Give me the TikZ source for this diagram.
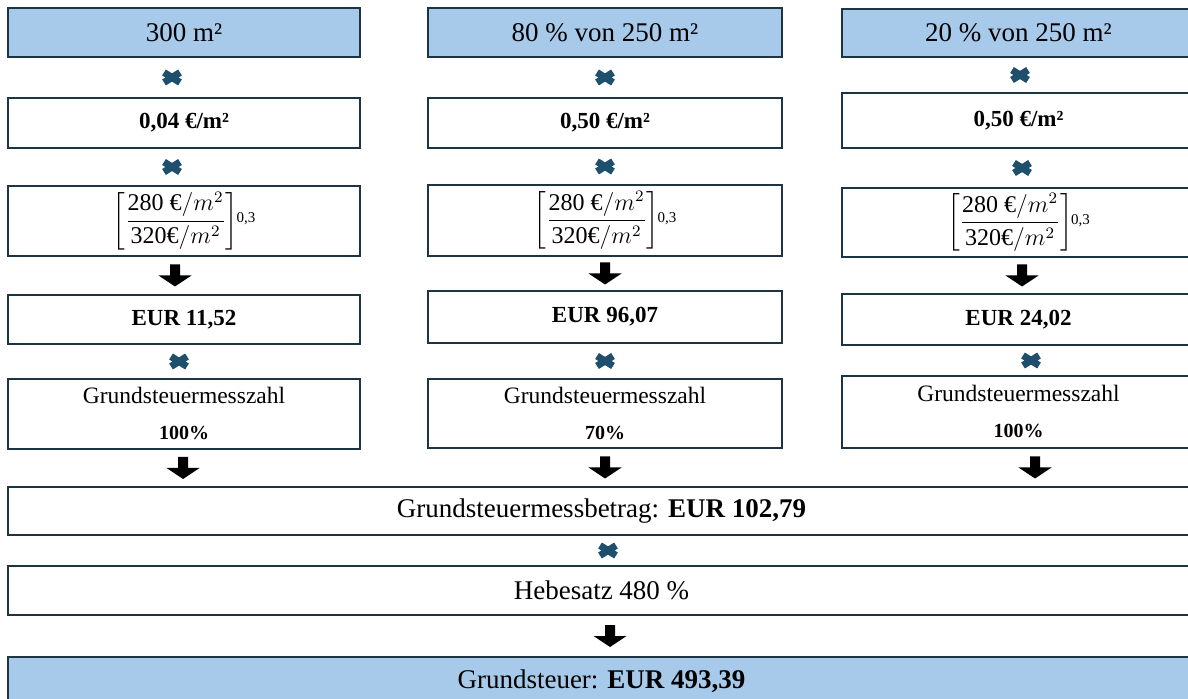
\documentclass[tikz,border=0pt]{standalone}
\usepackage{amsmath}
\usepackage{fontspec}
\setmainfont{Liberation Serif}
\usetikzlibrary{calc}
\definecolor{boxline}{HTML}{1C3444}
\definecolor{bluefill}{HTML}{A7C9EA}
\definecolor{multcol}{HTML}{1E4F6C}
\newcommand{\bodenratio}{\(\left[\dfrac{\text{280 €}/m^{2}}{\text{320€}/m^{2}}\right]\)\hspace{-1pt}\raisebox{2.2pt}{\fontsize{7.5}{9}\selectfont 0,3}}
\tikzset{
  box/.style={draw=boxline, line width=1pt, fill=white, inner sep=0pt, align=center},
  headbox/.style={box, fill=bluefill, font=\fontsize{13.5}{16}\selectfont},
  valbox/.style={box, font=\bfseries\fontsize{11.5}{14}\selectfont},
  fracbox/.style={box, font=\fontsize{12}{14}\selectfont},
  widebox/.style={box, font=\fontsize{13.5}{16}\selectfont},
  mzlabel/.style={anchor=base, inner sep=0pt, font=\fontsize{11.75}{14}\selectfont},
  mzpct/.style={anchor=base, inner sep=0pt, font=\bfseries\fontsize{10}{12}\selectfont},
  colA/.style={minimum width=176pt},
  colB/.style={minimum width=177pt},
  colC/.style={minimum width=176.5pt},
  mult/.pic={\draw[multcol, line width=3.5pt, line cap=butt, line join=miter] (-8,-5) -- (8,5) (-8,5) -- (8,-5);},
  downarr/.pic={\fill[black] (-5,-11) -- (5,-11) -- (5,0) -- (16.5,0) -- (0,11) -- (-16.5,0) -- (-5,0) -- cycle;}
}
\begin{document}
\begin{tikzpicture}[x=0.5pt,y=-0.5pt]
\useasboundingbox (0,0) rectangle (1188,699);
% ---------- column 1
\node[headbox, colA, minimum height=24.5pt] (a1) at (184,32.5) {300 m²};
\node[valbox, colA, minimum height=25pt] (b1) at (184,123) {0,04 €/m²};
\node[fracbox, colA, minimum height=35pt] (c1) at (184,221) {\bodenratio};
\node[valbox, colA, minimum height=24.5pt] (d1) at (184,319.5) {EUR 11,52};
\node[box, colA, minimum height=35pt] (e1) at (184,414) {};
\node[mzlabel] (e1t) at ($(e1.north)+(0,26)$) {Grundsteuermesszahl};
\node[mzpct] (e1p) at ($(e1.north)+(0,62)$) {100\%};
% ---------- column 2
\node[headbox, colB, minimum height=24.5pt] (a2) at (605,32.5) {80 \% von 250 m²};
\node[valbox, colB, minimum height=25pt] (b2) at (605,123) {0,50 €/m²};
\node[fracbox, colB, minimum height=35.5pt] (c2) at (605,220.5) {\bodenratio};
\node[valbox, colB, minimum height=26pt] (d2) at (605,317) {EUR 96,07};
\node[box, colB, minimum height=34.5pt] (e2) at (605,413.5) {};
\node[mzlabel] (e2t) at ($(e2.north)+(0,26)$) {Grundsteuermesszahl};
\node[mzpct] (e2p) at ($(e2.north)+(0,62)$) {70\%};
% ---------- column 3
\node[headbox, colC, minimum height=24pt] (a3) at (1018.5,33) {20 \% von 250 m²};
\node[valbox, colC, minimum height=27.5pt] (b3) at (1018.5,120.5) {0,50 €/m²};
\node[fracbox, colC, minimum height=34.5pt] (c3) at (1018.5,222.5) {\bodenratio};
\node[valbox, colC, minimum height=25.5pt] (d3) at (1018.5,319.5) {EUR 24,02};
\node[box, colC, minimum height=36pt] (e3) at (1018.5,412) {};
\node[mzlabel] (e3t) at ($(e3.north)+(0,27)$) {Grundsteuermesszahl};
\node[mzpct] (e3p) at ($(e3.north)+(0,63)$) {100\%};
% ---------- bottom
\node[widebox, minimum width=593.5pt, minimum height=24pt] (f) at (601.5,511) {Grundsteuermessbetrag: \textbf{EUR 102,79}};
\node[widebox, minimum width=593.5pt, minimum height=24.5pt] (g) at (601.5,590.5) {Hebesatz 480 \%};
\node[headbox, minimum width=593.5pt, minimum height=24pt] (h) at (601.5,681) {Grundsteuer: \textbf{EUR 493,39}};
% ---------- operators column 1
\pic at ($(a1.south)!0.5!(b1.north)+(-12,0)$) {mult};
\pic at ($(b1.south)!0.5!(c1.north)+(-12,0)$) {mult};
\pic at ($(c1.south)!0.5!(d1.north)+(-9,0)$) {downarr};
\pic at ($(d1.south)!0.5!(e1.north)+(-5,0)$) {mult};
\pic at ($(e1.south)!0.5!(e1.south |- f.north)+(-1,0)$) {downarr};
% ---------- operators column 2
\pic at ($(a2.south)!0.5!(b2.north)$) {mult};
\pic at ($(b2.south)!0.5!(c2.north)$) {mult};
\pic at ($(c2.south)!0.5!(d2.north)$) {downarr};
\pic at ($(d2.south)!0.5!(e2.north)$) {mult};
\pic at ($(e2.south)!0.5!(e2.south |- f.north)$) {downarr};
% ---------- operators column 3
\pic at ($(a3.south)!0.5!(b3.north)+(1.5,0)$) {mult};
\pic at ($(b3.south)!0.5!(c3.north)+(3.5,0)$) {mult};
\pic at ($(c3.south)!0.5!(d3.north)+(3.5,0)$) {downarr};
\pic at ($(d3.south)!0.5!(e3.north)+(12.5,0)$) {mult};
\pic at ($(e3.south)!0.5!(e3.south |- f.north)+(16.5,0)$) {downarr};
% ---------- operators bottom
\pic at ($(f.south)!0.5!(g.north)+(6.5,0)$) {mult};
\pic at ($(g.south)!0.5!(h.north)+(8.5,0)$) {downarr};
\end{tikzpicture}
\end{document}
